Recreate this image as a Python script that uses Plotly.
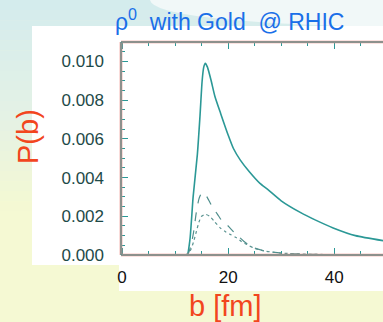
import plotly.graph_objects as go

# ---- data ----
b_total = [12.0, 12.3, 12.8, 13.4, 14.2, 14.7, 15.1, 15.4, 15.7, 16.1, 16.8, 17.5, 18.6, 20.0, 21.0, 22.3,
           24.0, 26.0, 27.4, 30.0, 33.6, 36.5, 39.8, 44.0, 49.5]
p_total = [0.0, 0.0, 0.0008, 0.0030, 0.0052, 0.0072, 0.0090, 0.0097, 0.0099, 0.0097, 0.0090, 0.0082,
           0.0073, 0.0062, 0.0055, 0.0049, 0.0043, 0.0037, 0.0034, 0.0028, 0.0022, 0.0018, 0.0014,
           0.0010, 0.00073]

b_dash = [12.0, 12.5, 13.0, 13.5, 14.0, 14.5, 15.0, 15.5, 16.0, 17.0, 18.0, 19.0, 20.0, 21.0, 22.0,
          23.0, 24.0, 25.0, 27.0, 30.0, 35.0, 40.0, 43.0]
p_dash = [0.0, 0.0001, 0.0005, 0.0012, 0.0022, 0.0029, 0.0032, 0.0032, 0.0030, 0.0025, 0.0021, 0.0017,
          0.0015, 0.0012, 0.00095, 0.0007, 0.0005, 0.00036, 0.0002, 0.0001, 0.00004, 0.00002, 0.00001]

b_dot = [12.0, 12.5, 13.0, 13.5, 14.0, 14.5, 15.0, 15.7, 16.5, 17.5, 18.5, 19.5, 20.5, 21.5, 22.5,
         23.5, 25.0, 27.0, 30.0, 35.0, 40.0, 43.0]
p_dot = [0.0, 0.0001, 0.0003, 0.0007, 0.0012, 0.0017, 0.0020, 0.0021, 0.0020, 0.0017, 0.0014, 0.0012,
         0.00105, 0.0009, 0.0007, 0.00055, 0.00034, 0.0002, 0.0001, 0.00004, 0.00002, 0.00001]

x_range = [-0.2, 49.2]
y_range = [0.0, 0.0110]

TEAL = "#2b9896"
RED = "#ef8a84"
W, H = 383, 322
L, T, R, B = 121, 42, 383, 255


def px(x):
    return (x - L) / (R - L)


def py(y):
    return (B - y) / (B - T)


fig = go.Figure()
fig.add_trace(go.Scatter(x=b_total, y=p_total, mode="lines", line=dict(color=TEAL, width=1.6, shape="spline", smoothing=0.6)))
fig.add_trace(go.Scatter(x=b_dash, y=p_dash, mode="lines", line=dict(color="#4f8e8c", width=1.2, dash="dash", shape="spline", smoothing=0.6)))
fig.add_trace(go.Scatter(x=b_dot, y=p_dot, mode="lines", line=dict(color="#5a9391", width=1.2, dash="dot", shape="spline", smoothing=0.6)))

shapes = []
# background gradient bands (decoration)
c0 = (0xd4, 0xec, 0xee)
c1 = (0xe4, 0xf2, 0xe6)
c2 = (0xf5, 0xf9, 0xd3)
nb = 32
for i in range(nb):
    y0 = i * H / nb
    y1 = (i + 1) * H / nb + 0.5
    t = (y0 + y1) / 2 / H
    if t < 0.35:
        f = t / 0.35
        c = tuple(int(c0[k] + (c1[k] - c0[k]) * f) for k in range(3))
    elif t < 0.65:
        f = (t - 0.35) / 0.3
        c = tuple(int(c1[k] + (c2[k] - c1[k]) * f) for k in range(3))
    else:
        c = c2
    shapes.append(dict(type="rect", xref="paper", yref="paper", x0=px(0), x1=px(W), y0=py(y1), y1=py(y0),
                       fillcolor="rgb(%d,%d,%d)" % c, line=dict(width=0), layer="below"))
# lighter top-right area
shapes.append(dict(type="path", xref="paper", yref="paper",
                   path="M %f,%f L %f,%f L %f,%f Q %f,%f %f,%f Z" % (
                       px(150), py(0), px(W), py(0), px(W), py(27), px(154), py(22), px(150), py(0)),
                   fillcolor="#f1f8f8", line=dict(width=0), layer="below"))
# white panels of the pasted plot
shapes.append(dict(type="rect", xref="paper", yref="paper", x0=px(32), x1=px(W), y0=py(265), y1=py(26),
                   fillcolor="white", line=dict(width=0), layer="below"))
shapes.append(dict(type="rect", xref="paper", yref="paper", x0=px(119), x1=px(W), y0=py(291), y1=py(264),
                   fillcolor="white", line=dict(width=0), layer="below"))
# frame: red fringe with teal core (bottom, top, left; right side is cut off)
for (xa, ya, xb, yb) in [(0, 0, 1.01, 0), (0, 1, 1.01, 1), (0, 0, 0, 1)]:
    shapes.append(dict(type="line", xref="paper", yref="paper", x0=xa, y0=ya, x1=xb, y1=yb,
                       line=dict(color=RED, width=2.6), layer="above"))
for (xa, ya, xb, yb) in [(0, 0, 1.01, 0), (0, 1, 1.01, 1), (0, 0, 0, 1)]:
    shapes.append(dict(type="line", xref="paper", yref="paper", x0=xa, y0=ya, x1=xb, y1=yb,
                       line=dict(color=TEAL, width=1.0), layer="above"))

annotations = [
    dict(text="ρ<sup>0</sup>\u00a0\u00a0with Gold\u00a0\u00a0@ RHIC", xref="paper", yref="paper",
         x=px(229), y=py(20), showarrow=False, xanchor="center", yanchor="middle",
         font=dict(family="Liberation Sans, Arial", size=23, color="#1a6fe8")),
    dict(text="P(b)", xref="paper", yref="paper", x=px(28), y=py(137), textangle=-90, showarrow=False,
         xanchor="center", yanchor="middle",
         font=dict(family="Liberation Sans, Arial", size=29, color="#f2461e")),
    dict(text="b [fm]", xref="paper", yref="paper", x=px(225), y=py(306), showarrow=False,
         xanchor="center", yanchor="middle",
         font=dict(family="Liberation Sans, Arial", size=29, color="#f2461e")),
]

fig.update_layout(
    width=W, height=H,
    margin=dict(l=L, r=W - R, t=T, b=H - B, pad=0),
    paper_bgcolor="#f5f9d3",
    plot_bgcolor="rgba(0,0,0,0)",
    showlegend=False,
    shapes=shapes,
    annotations=annotations,
    font=dict(family="Liberation Sans, Arial"),
)
fig.update_xaxes(range=x_range, showgrid=False, zeroline=False, showline=False,
                 mirror="allticks", ticks="inside", tick0=0, dtick=20, ticklen=7, tickcolor=TEAL, tickwidth=1.2,
                 minor=dict(dtick=5, tick0=0, ticks="inside", ticklen=4, tickcolor=TEAL, tickwidth=1.2),
                 tickfont=dict(size=17, color="#111111"), ticklabelstandoff=10)
fig.update_yaxes(range=y_range, showgrid=False, zeroline=False, showline=False,
                 mirror=False, ticks="inside", tick0=0, dtick=0.002, ticklen=7, tickcolor=TEAL, tickwidth=1.2,
                 minor=dict(dtick=0.0005, tick0=0, ticks="inside", ticklen=4, tickcolor=TEAL, tickwidth=1.2),
                 tickformat=".3f", tickfont=dict(size=17, color="#1e4a48"), ticklabelstandoff=16)

fig.write_html("out.html", config={"displayModeBar": False},
               post_script="document.body.style.margin='0';document.body.style.overflow='hidden';")
